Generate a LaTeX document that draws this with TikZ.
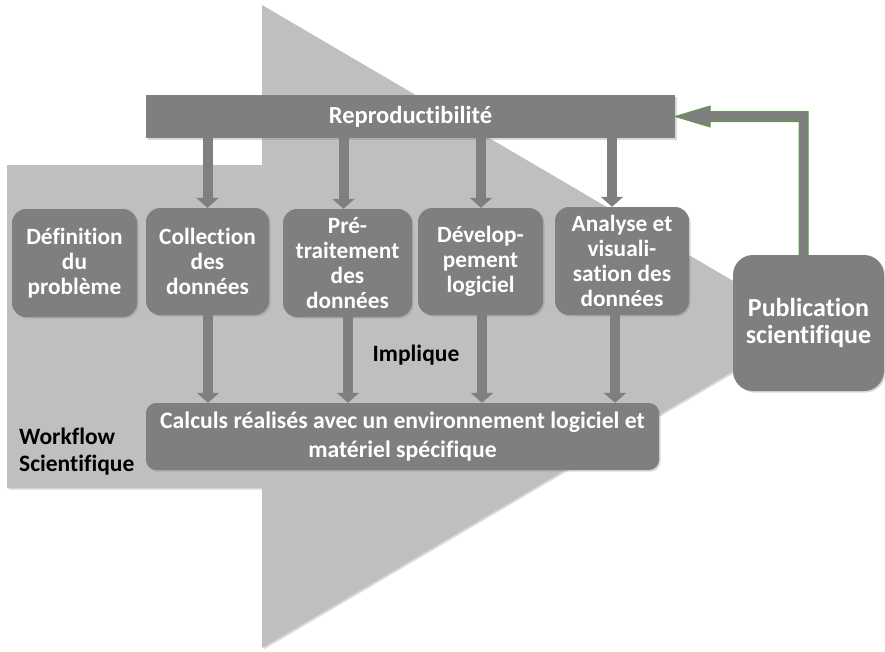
\documentclass[tikz,border=0pt]{standalone}
\usepackage{fontspec}
\setmainfont{Carlito}[Ligatures=NoCommon,RawFeature={-liga;-clig;-dlig}]
\usetikzlibrary{arrows.meta,calc,shadows}
\definecolor{boxgray}{HTML}{7F7F7F}
\definecolor{bggray}{HTML}{BFBFBF}
\definecolor{pubgreen}{HTML}{5E9B45}
\begin{document}
\begin{tikzpicture}[x=1pt,y=-1pt,
  shad/.style={drop shadow={shadow xshift=1.5pt,shadow yshift=-1.5pt,opacity=0.3}},
  box/.style={fill=boxgray,rounded corners=14pt,text=white,align=center,inner sep=0pt,
    font=\fontsize{23.3}{25}\selectfont\bfseries,shad},
  blk/.style={line width=10pt,draw=boxgray,-{Triangle[width=22pt,length=10pt]}},
  lbl/.style={text=black,font=\fontsize{23.5}{27}\selectfont\bfseries,inner sep=0pt}]
\useasboundingbox (0,0) rectangle (885,651);
% big background arrow
\fill[bggray,shad] (7,165) -- (262,165) -- (262,5) -- (810,326) -- (262,648) -- (262,488) -- (7,488) -- cycle;
% top bar
\node[box,rounded corners=0pt,minimum width=529pt,minimum height=43pt,
  font=\fontsize{24.5}{25}\selectfont\bfseries] (repro) at (410.5,116.5) {Reproductibilité};
% step boxes
\node[box,minimum width=125pt,minimum height=108pt] (b1) at (74.5,263) {Définition\\du\\problème};
\node[box,minimum width=123pt,minimum height=107pt] (b2) at (207.5,261.5) {Collection\\des\\données};
\node[box,minimum width=129pt,minimum height=108pt] (b3) at (347.5,263) {Pré-\\traitement\\des\\données};
\node[box,minimum width=125pt,minimum height=107pt] (b4) at (480.5,261.5) {Dévelop-\\pement\\logiciel};
\node[box,minimum width=134pt,minimum height=108pt] (b5) at (622,261) {Analyse et\\visuali-\\sation des\\données};
% bottom bar
\node[box,rounded corners=10pt,minimum width=513pt,minimum height=67pt,
  font=\fontsize{23.7}{29}\selectfont\bfseries] (calc) at (402.5,436.5)
  {Calculs réalisés avec un environnement logiciel et\\matériel spécifique};
% labels
\node[lbl] (impl) at (416,355) {Implique};
\node[lbl,anchor=west,align=left] (wf) at (19,452) {Workflow\\Scientifique};
% arrows from top bar
\coordinate (a2) at ($(b2.north)+(0,0)$);
\coordinate (a3) at ($(b3.north)+(-4,0)$);
\coordinate (a4) at ($(b4.north)+(0.5,0)$);
\coordinate (a5) at ($(b5.north)+(-10,0)$);
\foreach \a in {a2,a3,a4,a5} \draw[blk] (\a |- repro.south) -- (\a);
% arrows to bottom bar
\coordinate (c2) at ($(b2.south)+(0.5,0)$);
\coordinate (c3) at ($(b3.south)+(0.5,0)$);
\coordinate (c4) at ($(b4.south)+(1.5,0)$);
\coordinate (c5) at ($(b5.south)+(-7,0)$);
\foreach \c in {c2,c3,c4,c5} \draw[blk] (\c) -- (\c |- calc.north);
% feedback arrow
\coordinate (gx) at (803.5,255);
\filldraw[fill=boxgray,draw=pubgreen,line width=1pt]
  ($(gx)+(-4.5,0)$) |- ($(repro.east)+(35,5)$) -- ($(repro.east)+(35,10.5)$)
  -- (repro.east) -- ($(repro.east)+(35,-10.5)$) -- ($(repro.east)+(35,-5)$)
  -| ($(gx)+(4.5,0)$) -- cycle;
\node[box,rounded corners=20pt,minimum width=151pt,minimum height=136pt,
  font=\fontsize{26}{27}\selectfont\bfseries] (pub) at (808.5,323) {Publication\\scientifique};
\end{tikzpicture}
\end{document}
